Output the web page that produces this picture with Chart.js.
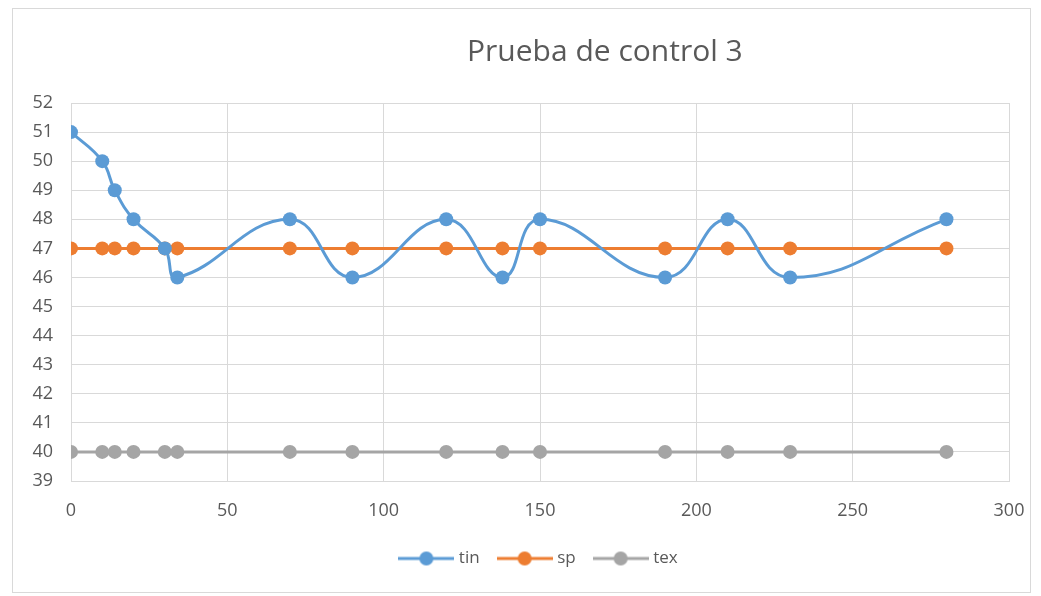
<!DOCTYPE html>
<html>
<head>
<meta charset="utf-8">
<script src="https://cdn.jsdelivr.net/npm/chart.js@4/dist/chart.umd.min.js"></script>
<style>
  body { margin: 0; background: #fff; }
  #box { position: absolute; left: 12px; top: 8px; width: 1017px; height: 583px; border: 1px solid #d9d9d9; background: #fff; }
</style>
</head>
<body>
<div id="box"><canvas id="myChart" width="1017" height="583"></canvas></div>
<script>
const tiempos = [0, 10, 14, 20, 30, 34, 70, 90, 120, 138, 150, 190, 210, 230, 280];
const tin = [51, 50, 49, 48, 47, 46, 48, 46, 48, 46, 48, 46, 48, 46, 48];
const sp = [47, 47, 47, 47, 47, 47, 47, 47, 47, 47, 47, 47, 47, 47, 47];
const tex = [40, 40, 40, 40, 40, 40, 40, 40, 40, 40, 40, 40, 40, 40, 40];
const titulo = 'Prueba de control 3';
const fuente = '"Open Sans", "Noto Sans", sans-serif';

function puntos(ys) {
    return tiempos.map((t, i) => ({ x: t, y: ys[i] }));
}

// icono de leyenda: linea con circulo
function iconoLeyenda(color) {
    const c = document.createElement('canvas');
    c.width = 56; c.height = 16;
    const g = c.getContext('2d');
    g.strokeStyle = color;
    g.lineWidth = 3;
    g.beginPath(); g.moveTo(0, 8); g.lineTo(56, 8); g.stroke();
    g.fillStyle = color;
    g.beginPath(); g.arc(28, 8, 7, 0, Math.PI * 2); g.fill();
    return c;
}

function serie(nombre, ys, color) {
    return {
        label: nombre,
        data: puntos(ys),
        borderColor: color,
        backgroundColor: color,
        borderWidth: 3,
        pointRadius: 7,
        pointHoverRadius: 7,
        pointBorderWidth: 0,
        tension: 0.45,
        pointStyle: 'circle',
        legendIcon: iconoLeyenda(color)
    };
}

const tituloPlugin = {
    id: 'tituloPlugin',
    afterDraw(chart) {
        const ctx = chart.ctx;
        ctx.save();
        ctx.font = '30px ' + fuente;
        ctx.fillStyle = '#595959';
        ctx.textAlign = 'center';
        ctx.textBaseline = 'middle';
        ctx.fillText(titulo, chart.width * 0.582, 43);
        ctx.restore();
    }
};

const ctx = document.getElementById('myChart').getContext('2d');
const datasets = [
    serie('tin', tin, '#5b9bd5'),
    serie('sp', sp, '#ed7d31'),
    serie('tex', tex, '#a5a5a5')
];

const myChart = new Chart(ctx, {
    type: 'line',
    data: { datasets: datasets },
    options: {
        responsive: false,
        animation: false,
        layout: { padding: { top: 94, right: 21, bottom: 15, left: 0 } },
        plugins: {
            legend: {
                position: 'bottom',
                fullSize: false,
                labels: {
                    usePointStyle: true,
                    pointStyleWidth: 48,
                    boxHeight: 16,
                    color: '#595959',
                    font: { size: 17, family: fuente },
                    padding: 21,
                    generateLabels(chart) {
                        return chart.data.datasets.map((d, i) => ({
                            text: d.label,
                            pointStyle: d.legendIcon,
                            fillStyle: d.borderColor,
                            strokeStyle: d.borderColor,
                            fontColor: '#595959',
                            lineWidth: 0,
                            datasetIndex: i,
                            hidden: false
                        }));
                    }
                }
            },
            title: { display: false },
            tooltip: { enabled: false }
        },
        scales: {
            x: {
                type: 'linear',
                min: 0,
                max: 300,
                ticks: { stepSize: 50, color: '#595959', font: { size: 18, family: fuente }, padding: 19 },
                grid: { color: '#d9d9d9', drawTicks: false },
                border: { color: '#d9d9d9' },
                afterFit(scale) {
                    scale.height = 48;
                    scale.paddingLeft = 0;
                    scale.paddingRight = 0;
                }
            },
            y: {
                min: 39,
                max: 52,
                ticks: { stepSize: 1, color: '#595959', font: { size: 18, family: fuente }, padding: 18 },
                grid: { color: '#d9d9d9', drawTicks: false },
                border: { display: false },
                afterFit(scale) { scale.width = 58; }
            }
        }
    },
    plugins: [tituloPlugin]
});
</script>
</body>
</html>
